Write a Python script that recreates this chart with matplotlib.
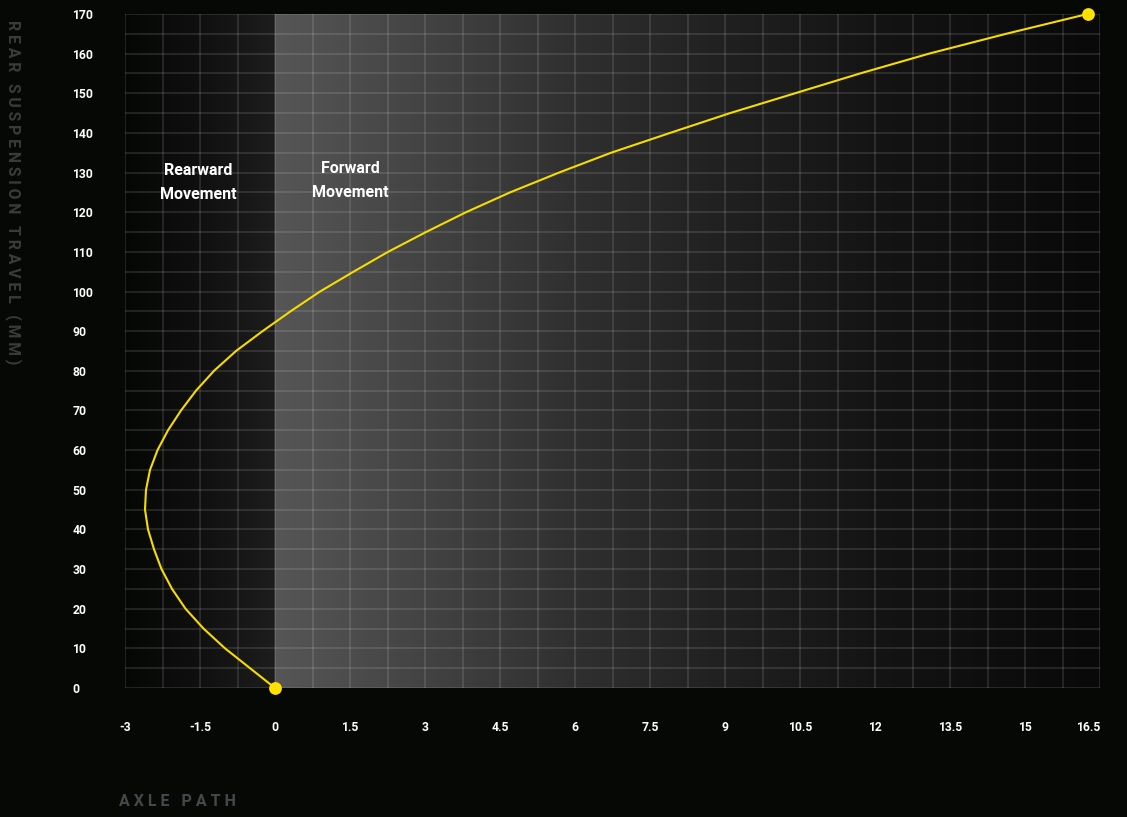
# axle path chart: rear suspension travel vs axle path
import numpy as np
import matplotlib.pyplot as plt
from matplotlib.colors import LinearSegmentedColormap

# curve (travel in mm, axle path in mm)
travel = [0, 5, 10, 15, 20, 25, 30, 35, 40, 45, 50, 55, 60, 65, 70, 75, 80, 85,
          90, 95, 100, 105, 110, 115, 120, 125, 130, 135, 140, 145, 150, 155,
          160, 165, 170]
axle_path = [0.0, -0.5, -1.0, -1.43, -1.79, -2.06, -2.27, -2.42, -2.54, -2.6,
             -2.58, -2.5, -2.35, -2.14, -1.88, -1.58, -1.22, -0.78, -0.25, 0.31,
             0.9, 1.57, 2.26, 3.02, 3.82, 4.7, 5.68, 6.72, 7.9, 9.1, 10.4,
             11.7, 13.08, 14.62, 16.25]

x_ticks = [-3, -1.5, 0, 1.5, 3, 4.5, 6, 7.5, 9, 10.5, 12, 13.5, 15, 16.5]
x_labels = ['-3', '-1.5', '0', '1.5', '3', '4.5', '6', '7.5', '9', '10.5',
            '12', '13.5', '15', '16.5']
y_ticks = list(range(0, 171, 10))

BG = '#060806'
YELLOW = '#f7dc00'
FONT = 'Roboto'

fig = plt.figure(figsize=(11.27, 8.17), dpi=100, facecolor=BG)
ax = fig.add_axes([125 / 1127, 1 - 688 / 817, 975 / 1127, 674 / 817])
ax.set_facecolor(BG)

# shaded backgrounds: rearward (left of 0) and forward (right of 0)
rear_cmap = LinearSegmentedColormap.from_list(
    'rear', [(0, '#050705'), (0.5, '#0f100f'), (1, '#1d1d1d')])
fwd_cmap = LinearSegmentedColormap.from_list(
    'fwd', [(0, '#565656'), (0.18, '#424342'), (0.36, '#2f302f'),
            (0.55, '#1f201f'), (0.75, '#121312'), (1, '#080908')])
grad = np.linspace(0, 1, 256).reshape(1, -1)
ax.imshow(grad, cmap=rear_cmap, extent=[-3, 0, 0, 170], aspect='auto', zorder=0)
ax.imshow(grad, cmap=fwd_cmap, extent=[0, 16.5, 0, 170], aspect='auto', zorder=0)
ax.set_xlim(-3, 16.5)
ax.set_ylim(0, 170)

# grid
for gx in np.arange(-3, 16.51, 0.75):
    ax.axvline(gx, color='white', alpha=0.11, lw=1.5, zorder=1)
for gy in np.arange(0, 170.1, 5):
    ax.axhline(gy, color='white', alpha=0.11, lw=1.5, zorder=1)

for s in ax.spines.values():
    s.set_visible(False)

# curve + end points
ax.plot(axle_path, travel, color=YELLOW, lw=1.5, zorder=3,
        solid_joinstyle='round')
ax.scatter([axle_path[0], axle_path[-1]], [travel[0], travel[-1]], s=85,
           color='#ffe100', zorder=4, clip_on=False, linewidths=0)

# ticks
ax.set_xticks(x_ticks)
ax.set_xticklabels(x_labels)
ax.set_yticks(y_ticks)
ax.tick_params(length=0, colors='white')
ax.tick_params(axis='x', pad=24)
ax.tick_params(axis='y', pad=38)
for lab in ax.get_xticklabels() + ax.get_yticklabels():
    lab.set_fontfamily(FONT)
    lab.set_fontweight('bold')
    lab.set_fontsize(8.7)
for lab in ax.get_yticklabels():
    lab.set_horizontalalignment('left')
ax.get_xticklabels()[-1].set_horizontalalignment('right')

# region labels
ax.text(-1.54, 127.4, 'Rearward\nMovement', color='white', fontsize=11.5,
        fontweight='bold', family=FONT, ha='center', va='center',
        linespacing=1.75, zorder=5)
ax.text(1.5, 127.9, 'Forward\nMovement', color='white', fontsize=11.5,
        fontweight='bold', family=FONT, ha='center', va='center',
        linespacing=1.75, zorder=5)

# axis titles
fig.text(119 / 1127, 1 - 801 / 817, 'A X L E   P A T H', color='#45474a',
         fontsize=11.5, fontweight='bold', family=FONT, ha='left', va='center')
fig.text(13 / 1127, 1 - 192 / 817, 'R E A R   S U S P E N S I O N   T R A V E L   ( M M )',
         color='#3a3c3a', fontsize=11.3, fontweight='bold', family=FONT,
         rotation=-90, ha='center', va='center')

fig.savefig('out.png', dpi=100, facecolor=BG)
